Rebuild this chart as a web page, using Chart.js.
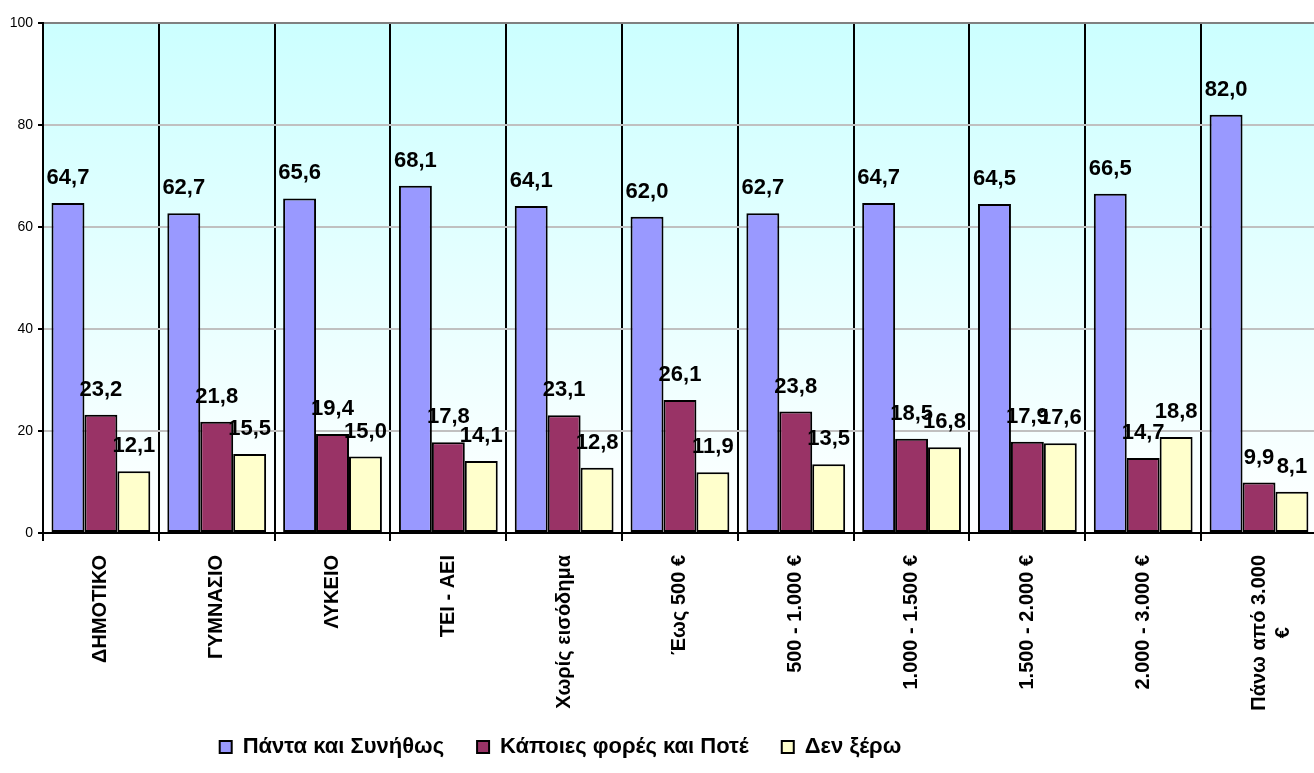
<!DOCTYPE html>
<html>
<head>
<meta charset="utf-8">
<script src="https://cdn.jsdelivr.net/npm/chart.js@4/dist/chart.umd.min.js"></script>
<style>
  html, body { margin: 0; padding: 0; background: #fff; overflow: hidden; }
  #wrap { width: 1321px; height: 773px; }
</style>
</head>
<body>
<div id="wrap"><canvas id="barChart" width="1321" height="773"></canvas></div>
<script>
// categories and values
const categories = ['ΔΗΜΟΤΙΚΟ', 'ΓΥΜΝΑΣΙΟ', 'ΛΥΚΕΙΟ', 'ΤΕΙ - ΑΕΙ', 'Χωρίς εισόδημα', 'Έως 500 €',
    '500 - 1.000 €', '1.000 - 1.500 €', '1.500 - 2.000 €', '2.000 - 3.000 €', ['Πάνω από 3.000', '€             ']];
const seriesNames = ['Πάντα και Συνήθως', 'Κάποιες φορές και Ποτέ', 'Δεν ξέρω'];
const always = [64.7, 62.7, 65.6, 68.1, 64.1, 62.0, 62.7, 64.7, 64.5, 66.5, 82.0];
const sometimes = [23.2, 21.8, 19.4, 17.8, 23.1, 26.1, 23.8, 18.5, 17.9, 14.7, 9.9];
const dontKnow = [12.1, 15.5, 15.0, 14.1, 12.8, 11.9, 13.5, 16.8, 17.6, 18.8, 8.1];
const yTicks = [0, 20, 40, 60, 80, 100];

const FONT = '"Liberation Sans", Arial, sans-serif';

// cyan-to-white fill behind the plot
const plotBackground = {
    id: 'plotBackground',
    beforeDraw(chart) {
        const { ctx, chartArea: a } = chart;
        const g = ctx.createLinearGradient(0, a.top, 0, a.bottom);
        g.addColorStop(0, '#CCFFFF');
        g.addColorStop(1, '#FFFFFF');
        ctx.save();
        ctx.fillStyle = g;
        ctx.fillRect(a.left, a.top, a.right - a.left, a.bottom - a.top);
        ctx.restore();
    }
};

// numbers above bars, comma decimals
const valueLabels = {
    id: 'valueLabels',
    afterDatasetsDraw(chart) {
        const ctx = chart.ctx;
        ctx.save();
        ctx.font = 'bold 22px ' + FONT;
        ctx.fillStyle = '#000';
        ctx.textAlign = 'center';
        ctx.textBaseline = 'alphabetic';
        chart.data.datasets.forEach((ds, i) => {
            chart.getDatasetMeta(i).data.forEach((bar, j) => {
                ctx.fillText(ds.data[j].toFixed(1).replace('.', ','), bar.x, bar.y - 19);
            });
        });
        ctx.restore();
    }
};

// legend sits left of centre; x labels may run over the legend band
const fixLayout = {
    id: 'fixLayout',
    afterLayout(chart) {
        const lg = chart.legend;
        lg.left -= 100; lg.right -= 100;
        lg.top -= 5; lg.bottom -= 5;
        chart.scales.x.bottom = chart.height;
    }
};

const ctx = document.getElementById('barChart').getContext('2d');

const data = {
    labels: categories,
    datasets: [
        { label: seriesNames[0], data: always, backgroundColor: '#9999FF' },
        { label: seriesNames[1], data: sometimes, backgroundColor: '#993366' },
        { label: seriesNames[2], data: dontKnow, backgroundColor: '#FFFFCC' }
    ].map(d => Object.assign(d, {
        borderColor: '#000', borderWidth: 2, borderSkipped: false,
        categoryPercentage: 0.853, barPercentage: 1.0
    }))
};

const options = {
    responsive: false,
    animation: false,
    devicePixelRatio: 1,
    layout: { padding: { top: 23, left: 0, right: 0, bottom: 0 } },
    plugins: {
        tooltip: { enabled: false },
        legend: {
            position: 'bottom',
            labels: {
                color: '#000',
                font: { family: FONT, size: 22, weight: 'bold' },
                boxWidth: 12, boxHeight: 12,
                padding: 33
            }
        }
    },
    scales: {
        x: {
            grid: { color: '#000', lineWidth: 2, tickLength: 8, offset: true },
            border: { color: '#000', width: 2 },
            ticks: {
                color: '#000', autoSkip: false, maxRotation: 90, minRotation: 90, padding: 14,
                font: { family: FONT, size: 20, weight: 'bold' }
            },
            afterFit(scale) { scale.height = 175; }
        },
        y: {
            min: 0, max: 100,
            afterBuildTicks(scale) { scale.ticks = yTicks.map(v => ({ value: v })); },
            grid: {
                color: ctx => ctx.tick && ctx.tick.value === 100 ? '#808080' : '#C0C0C0',
                tickColor: '#000', tickLength: 5, lineWidth: 2
            },
            border: { color: '#000', width: 2 },
            ticks: { color: '#000', padding: 5, font: { family: FONT, size: 14 } },
            afterFit(scale) { scale.width = 43; }
        }
    }
};

const myChart = new Chart(ctx, {
    type: 'bar',
    data: data,
    options: options,
    plugins: [plotBackground, valueLabels, fixLayout]
});
</script>
</body>
</html>
